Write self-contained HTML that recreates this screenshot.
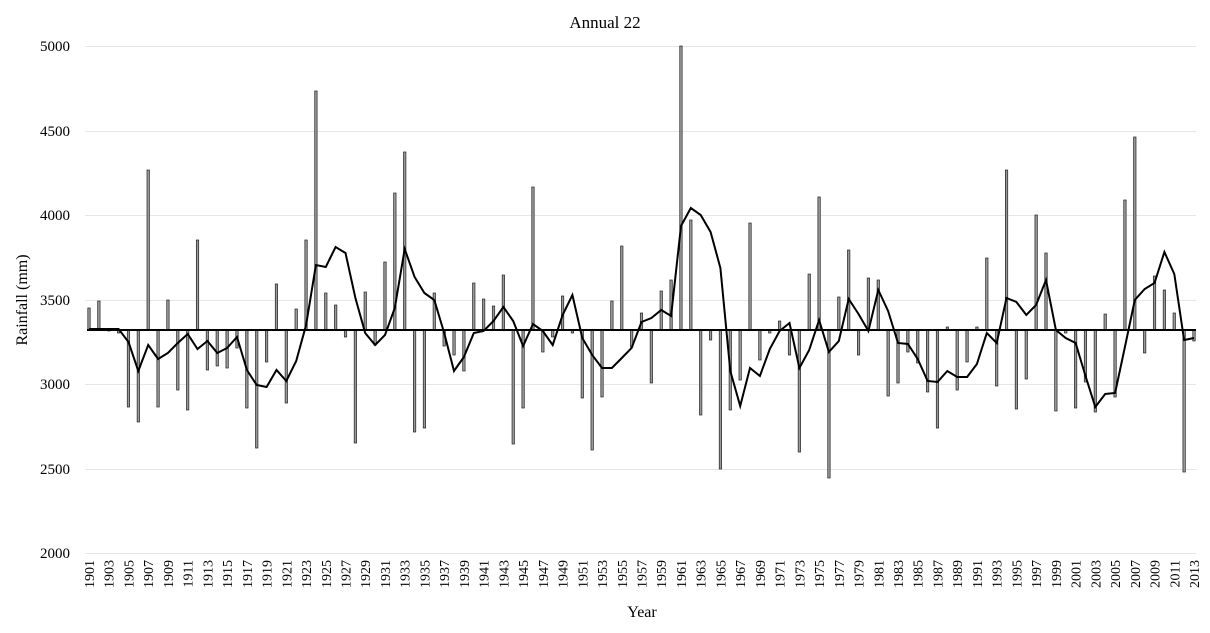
<!DOCTYPE html>
<html><head><meta charset="utf-8"><style>
html,body{margin:0;padding:0;background:#fff;}
svg{display:block;font-family:"Liberation Serif",serif;}
</style></head><body>
<svg id="s" width="1210" height="633" xmlns="http://www.w3.org/2000/svg">
<rect width="1210" height="633" fill="#fff"/>
<g stroke="#e6e6e6" stroke-width="1">
<line x1="85" x2="1196" y1="46.5" y2="46.5"/>
<line x1="85" x2="1196" y1="131.5" y2="131.5"/>
<line x1="85" x2="1196" y1="215.5" y2="215.5"/>
<line x1="85" x2="1196" y1="300.5" y2="300.5"/>
<line x1="85" x2="1196" y1="384.5" y2="384.5"/>
<line x1="85" x2="1196" y1="469.5" y2="469.5"/>
<line x1="85" x2="1196" y1="553.5" y2="553.5"/>
</g>
<g font-size="15" text-anchor="end" fill="#000">
<text x="70" y="51">5000</text>
<text x="70" y="136">4500</text>
<text x="70" y="220">4000</text>
<text x="70" y="305">3500</text>
<text x="70" y="389">3000</text>
<text x="70" y="474">2500</text>
<text x="70" y="558">2000</text>
</g>
<text x="605" y="28" font-size="17" text-anchor="middle">Annual 22</text>
<text x="642" y="617" font-size="16" text-anchor="middle">Year</text>
<text transform="translate(27,300) rotate(-90)" font-size="16" text-anchor="middle">Rainfall (mm)</text>
<g id="bars"></g>
<g id="xl" font-size="14" text-anchor="end"></g>
</svg>
<script>
var b=[308,301,331,333,407,422,170,407,300,390,410,240,370,366,368,348,408,448,362,284,403,309,240,91,293,305,337,443,292,345,262,193,152,432,428,293,346,355,371,283,299,306,275,444,408,187,352,337,296,333,398,450,397,301,246,347,313,383,291,280,46,220,415,340,469,410,380,223,360,333,321,355,452,274,197,478,297,250,355,278,280,396,383,352,363,392,428,327,390,362,327,258,386,170,409,379,215,253,411,333,408,382,412,314,397,200,137,353,276,290,313,472,341];
var l=[329,329,329,329,342,371,345,359,353,343,334,349,341,353,348,337,370,385,387,370,381,361,325,265,267,247,253,298,333,345,335,308,249,277,293,300,333,371,357,333,331,321,307,321,346,324,331,345,315,295,338,355,368,368,358,348,322,318,310,316,226,208,215,232,268,371,406,368,376,349,331,323,368,350,320,352,341,299,314,331,290,311,343,344,359,381,382,371,377,377,364,333,343,298,302,315,305,280,330,338,343,376,407,394,393,347,300,289,283,252,274,340,338];
var NS="http://www.w3.org/2000/svg",g=document.getElementById("bars"),base=330;
function X(i){return 89+i*9.866;}
for(var i=0;i<b.length;i++){var r=document.createElementNS(NS,"rect");var y0=Math.min(b[i],base),h=Math.abs(b[i]-base);
r.setAttribute("x",X(i)-1.2);r.setAttribute("y",y0);r.setAttribute("width",2.4);r.setAttribute("height",h);
r.setAttribute("fill","#999");r.setAttribute("stroke","#222");r.setAttribute("stroke-width","0.7");g.appendChild(r);}
var bl=document.createElementNS(NS,"line");bl.setAttribute("x1",87);bl.setAttribute("x2",1196);bl.setAttribute("y1",base);bl.setAttribute("y2",base);bl.setAttribute("stroke","#000");bl.setAttribute("stroke-width","2");g.appendChild(bl);
var p="";for(var i=0;i<l.length;i++){p+=(i?"L":"M")+X(i).toFixed(1)+" "+l[i];}
var pa=document.createElementNS(NS,"path");pa.setAttribute("d",p);pa.setAttribute("fill","none");pa.setAttribute("stroke","#000");pa.setAttribute("stroke-width","2");g.appendChild(pa);
var xl=document.getElementById("xl");
for(var k=0;k<57;k++){var t=document.createElementNS(NS,"text");var x=X(2*k)+5;t.setAttribute("transform","translate("+x+",560) rotate(-90)");t.textContent=String(1901+2*k);xl.appendChild(t);}
</script>
</body></html>
